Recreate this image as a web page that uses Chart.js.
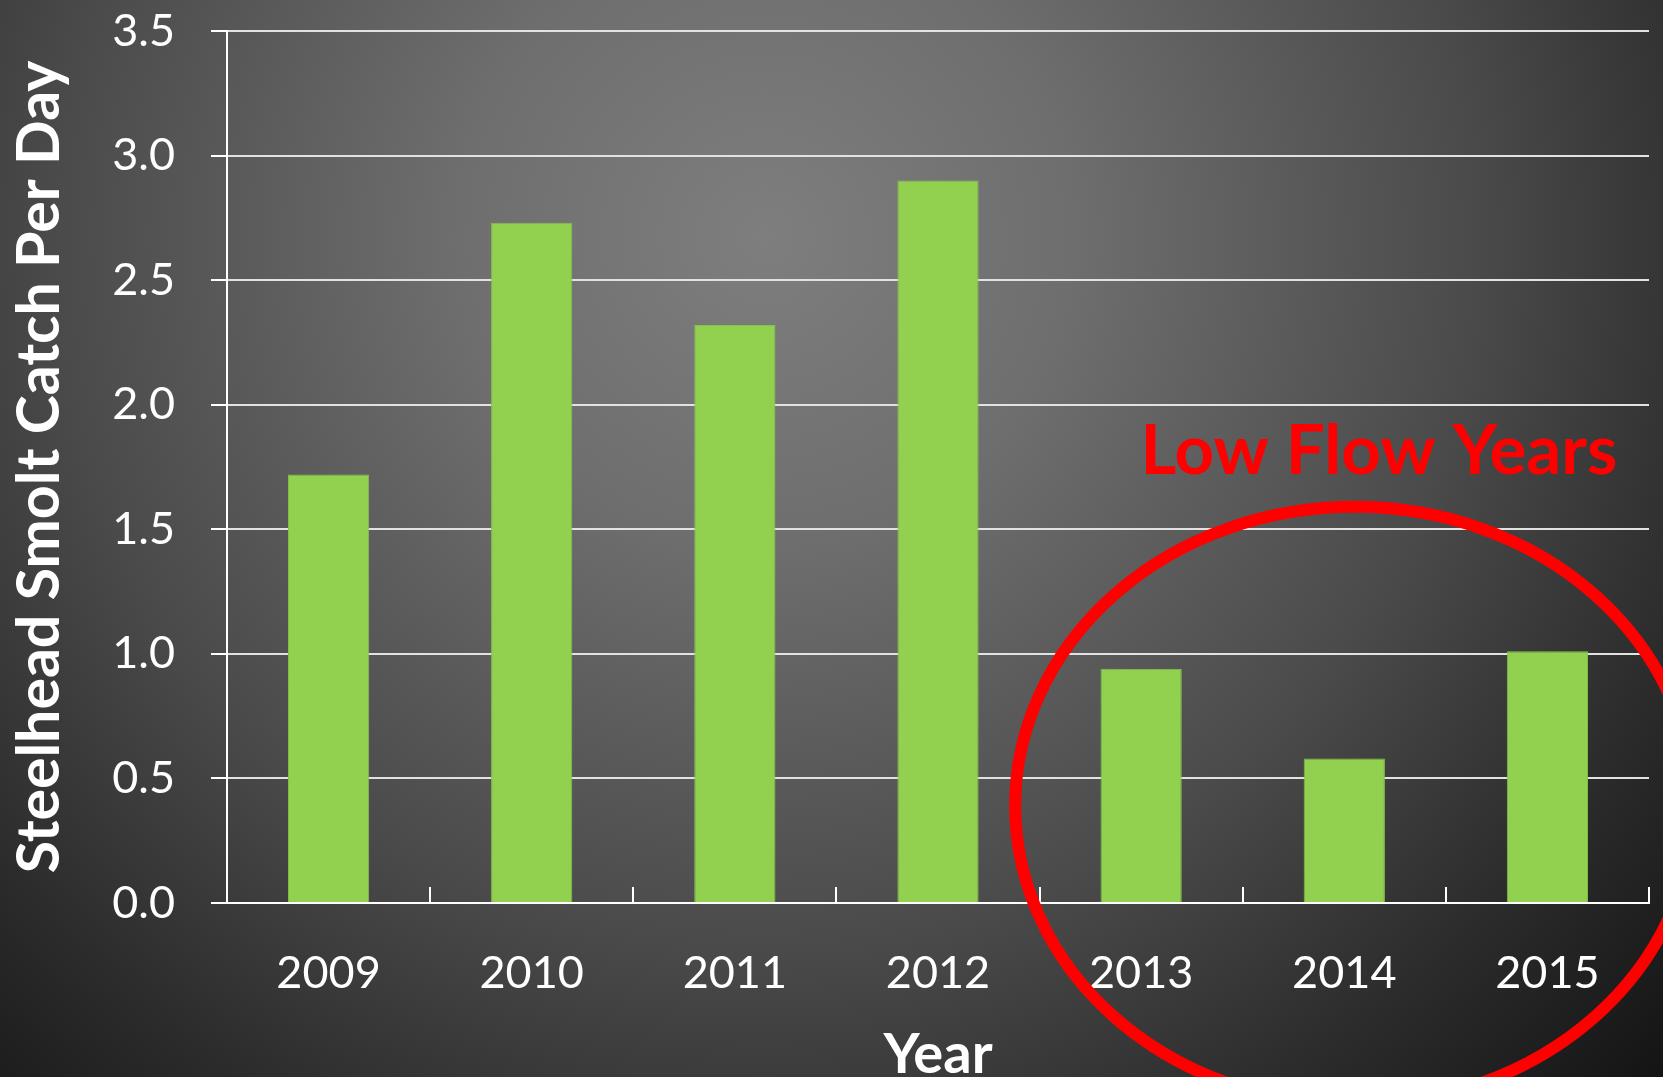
<!DOCTYPE html>
<html>
<head>
<meta charset="utf-8">
<script src="https://cdn.jsdelivr.net/npm/chart.js@4.4.1/dist/chart.umd.min.js"></script>
<style>
  html, body { margin: 0; padding: 0; }
  body {
    width: 1663px;
    height: 1077px;
    overflow: hidden;
    background: radial-gradient(circle farthest-corner at 46% 22%, #7e7e7e 0%, #6e6e6e 25%, #4a4a4a 58%, #2c2c2c 80%, #141414 100%);
  }
  #wrap { position: relative; width: 1663px; height: 1077px; }
</style>
</head>
<body>
<div id="wrap"><canvas id="myChart"></canvas></div>
<script>
var years = ["2009", "2010", "2011", "2012", "2013", "2014", "2015"];
var catchPerDay = [1.72, 2.73, 2.32, 2.9, 0.94, 0.58, 1.01];
var yTicks = [0, 0.5, 1.0, 1.5, 2.0, 2.5, 3.0, 3.5];

var barColor = "#92d050";
var fontName = "Lato, 'Open Sans', sans-serif";

// inside tick marks on the x axis + the red "low flow" callout
const extras = {
  id: "extras",
  afterDraw: function (chart) {
    const ctx = chart.ctx;
    const x = chart.scales.x;
    const y = chart.scales.y;
    const step = (x.right - x.left) / years.length;

    ctx.save();
    ctx.strokeStyle = "#ffffff";
    ctx.lineWidth = 2;
    for (let i = 1; i <= years.length; i++) {
      const px = Math.round(x.left + i * step);
      ctx.beginPath();
      ctx.moveTo(px, y.bottom);
      ctx.lineTo(px, y.bottom - 16);
      ctx.stroke();
    }

    // ellipse round the last three years
    const cx = x.getPixelForValue(5) + step * 0.05;
    const cy = y.getPixelForValue(0.39);
    const rx = step * 1.67;
    const ry = y.getPixelForValue(0) - y.getPixelForValue(1.2);
    ctx.strokeStyle = "#ff0000";
    ctx.lineWidth = 12;
    ctx.beginPath();
    ctx.ellipse(cx, cy, rx, ry, 0, 0, Math.PI * 2);
    ctx.stroke();

    ctx.fillStyle = "#ff0000";
    ctx.font = "bold 69px " + fontName;
    ctx.textAlign = "center";
    ctx.textBaseline = "alphabetic";
    ctx.fillText("Low Flow Years", x.getPixelForValue(5) + step * 0.17, y.getPixelForValue(1.72));
    ctx.restore();
  },
};

const ctx = document.getElementById("myChart").getContext("2d");

const myChart = new Chart(ctx, {
  type: "bar",
  data: {
    labels: years,
    datasets: [
      {
        data: catchPerDay,
        backgroundColor: barColor,
        borderColor: "#86c14a",
        borderWidth: 1,
        barPercentage: 0.4,
        categoryPercentage: 1.0,
      },
    ],
  },
  options: {
    responsive: true,
    maintainAspectRatio: false,
    animation: false,
    devicePixelRatio: 1,
    layout: {
      padding: { top: 31, right: 14, left: 0, bottom: 0 },
    },
    plugins: {
      legend: { display: false },
      tooltip: { enabled: false },
    },
    scales: {
      x: {
        grid: { display: false, drawTicks: false },
        border: { display: true, color: "#ffffff", width: 2 },
        ticks: {
          color: "#ffffff",
          font: { family: fontName, size: 45 },
          padding: 43,
        },
        title: {
          display: true,
          text: "Year",
          color: "#ffffff",
          font: { family: fontName, size: 56, weight: "bold", lineHeight: 0.8 },
          padding: { top: 0, bottom: 0 },
        },
        afterFit: function (scale) {
          scale.height = 174;
          scale.paddingLeft = 0;
          scale.paddingRight = 0;
        },
      },
      y: {
        min: 0,
        max: 3.5,
        afterBuildTicks: function (scale) {
          scale.ticks = yTicks.map(function (v) { return { value: v }; });
        },
        grid: {
          color: "#e2e2e2",
          lineWidth: 2,
          drawTicks: true,
          tickLength: 16,
          tickColor: "#ffffff",
        },
        border: { display: true, color: "#ffffff", width: 2 },
        ticks: {
          color: "#ffffff",
          font: { family: fontName, size: 45 },
          padding: 36,
          callback: function (v) { return Number(v).toFixed(1); },
        },
        title: {
          display: true,
          text: "Steelhead Smolt Catch Per Day",
          color: "#ffffff",
          font: { family: fontName, size: 59, weight: "bold", lineHeight: 1 },
          padding: { top: 10, bottom: 0 },
        },
        afterFit: function (scale) {
          scale.width = 227;
          scale.paddingTop = 0;
          scale.paddingBottom = 0;
        },
      },
    },
  },
  plugins: [extras],
});
</script>
</body>
</html>
